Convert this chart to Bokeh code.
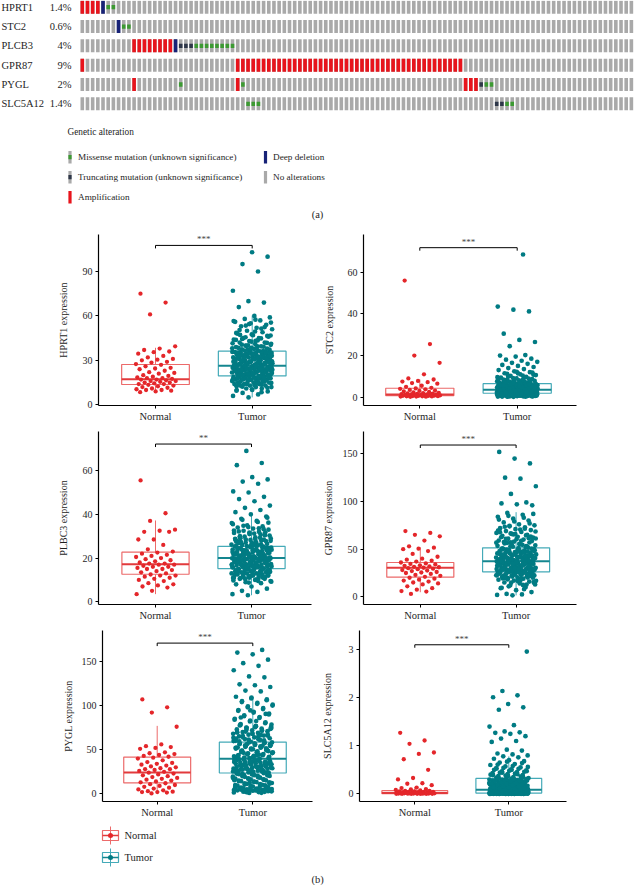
import numpy as np
from bokeh.plotting import figure
from bokeh.models import Range1d, FixedTicker
from bokeh.layouts import column, row
from bokeh.embed import file_html
from bokeh.resources import INLINE
from bokeh.core.properties import value

FONT = "Liberation Serif"
TXT = "#1e1e1e"

# ======================= (a) oncoprint data =======================
genes = ["HPRT1", "STC2", "PLCB3", "GPR87", "PYGL", "SLC5A12"]
gene_pct = ["1.4%", "0.6%", "4%", "9%", "2%", "1.4%"]
n_visible_samples = 107

hprt1_amp = [0, 1, 2, 3]
hprt1_deep = [4]
hprt1_missense = [5, 6]
stc2_deep = [7]
stc2_missense = [8, 9]
plcb3_amp = [10, 11, 12, 13, 14, 15, 16, 17]
plcb3_deep = [18]
plcb3_trunc = [19, 20, 21]
plcb3_missense = [22, 23, 24, 25, 26, 27, 28, 29]
gpr87_amp = [0, 30, 31, 32, 33, 34, 35, 36, 37, 38, 39, 40, 41, 42, 43, 44, 45, 46,
             47, 48, 49, 50, 51, 52, 53, 54, 55, 56, 57, 58, 59, 60, 61, 62, 63, 64,
             65, 66, 67, 68, 69, 70, 71, 72, 73]
pygl_amp = [10, 30, 74, 75, 76]
pygl_trunc = [77]
pygl_missense = [19, 31, 78, 79]
slc5a12_trunc = [80, 81]
slc5a12_missense = [32, 33, 34, 82, 83]

legend_left = ["Missense mutation (unknown significance)",
               "Truncating mutation (unknown significance)",
               "Amplification"]
legend_right = ["Deep deletion", "No alterations"]

# ======================= (b) expression data =======================
categories = ["Normal", "Tumor"]

hprt1_normal = [75, 69, 61, 39.5, 38, 37, 36, 35.5, 34.5, 33, 32, 31, 30.5, 30, 29, 28.5,
                27.5, 27, 26, 25, 24.5, 24, 23, 22, 21.5, 21, 20, 19.5, 19, 18.5, 18, 18,
                17.5, 17, 17, 16.5, 16, 16, 15.5, 15, 15, 14.5, 14, 14, 13.5, 13, 12.5, 12,
                11.5, 11, 10.5, 10, 10, 9.5, 9, 8.5]
hprt1_tumor = [5, 6, 7, 8, 9, 10, 10, 11, 11, 12, 12, 13, 13, 13, 14, 14, 14, 15, 15, 15,
               16, 16, 16, 16, 17, 17, 17, 17, 18, 18, 18, 18, 19, 19, 19, 19, 19.5,
               20, 20, 20.5, 21, 21, 21, 21.5, 22, 22, 22, 22.5, 23, 23, 23, 23.5, 24, 24,
               24, 24.5, 25, 25, 25, 25.5, 26, 26, 26, 20.3, 20.8, 21.7, 22.3, 23.2, 23.8,
               24.3, 24.8, 25.3, 25.8, 26.2,
               27, 27, 27.5, 28, 28, 28.5, 29, 29, 29.5, 30, 30, 30.5, 31, 31, 31.5, 32, 32,
               32.5, 33, 33, 33.5, 34, 34, 34.5, 35, 35, 35.5, 36, 36, 27.2, 28.3, 29.2,
               30.3, 31.3, 32.7, 33.7, 34.7, 35.7,
               37, 37.5, 38, 38.5, 39, 39.5, 40, 40.5, 41, 42, 42, 43, 44, 45, 45, 46, 47,
               48, 49, 50, 51, 52, 53, 54, 55, 56, 57, 58, 59, 60, 66, 69, 70, 77, 90, 95,
               100, 103,
               12.5, 13.5, 14.2, 14.8, 15.3, 15.8, 16.3, 16.8, 17.3, 17.8, 18.3, 18.8, 19.3,
               19.8, 20.6, 21.2, 21.8, 22.6, 23.4, 24.1, 24.6, 25.1, 25.6, 26.1, 26.6, 27.1,
               27.6, 28.1, 28.6, 29.1, 29.6, 30.1, 30.6, 31.1, 31.6, 32.1, 32.6, 33.1, 33.6,
               34.1, 34.6, 35.1, 35.6, 36.1, 36.6, 37.2, 37.8, 38.4, 39.2, 40.2, 41.5, 43.5,
               44.5, 46.5, 47.5, 48.5, 51.5, 53.5, 55.5, 57.5, 20.1, 22.1, 24.1, 26.4, 28.4,
               30.4, 32.4, 34.4, 18.1, 16.1, 14.1, 23.6, 27.8, 29.8, 31.8, 21.3, 25.2, 19.2,
               33.8, 35.3,
               13.2, 14.6, 15.6, 16.6, 17.6, 18.6, 19.6, 20.4, 21.4, 22.4, 23.3, 24.2, 25.4,
               26.3, 27.3, 28.2, 29.3, 30.2, 31.2, 32.3, 33.3, 34.3, 35.2, 36.3, 37.4, 38.2,
               39.4, 40.6, 41.8, 42.6, 43.8, 44.8, 45.6, 46.8, 49.5, 50.5, 52.5, 54.5, 56.5,
               15.1, 17.1, 19.1, 21.1, 23.1, 25.1, 27.4, 29.4, 31.4, 33.4, 35.4, 37.6, 22.7,
               24.4, 26.7, 28.7, 30.7, 32.9, 18.4, 20.9, 16.9, 14.4, 12.2, 11.5, 10.5, 9.5,
               8.5, 39.8, 41.2, 43.2, 47.2]
hprt1_stats = [(8.5, 13.7, 17.3, 27.2, 38.5), (5, 19.5, 26.3, 36.2, 60.3)]

stc2_normal = [56, 25.5, 20, 16.5, 11, 9, 8.5, 7.8, 7.5, 7.2, 6.8, 6.5, 5.5, 5, 4.5, 4.2, 4,
               3.8, 3.5, 3.2, 3, 2.8, 2.5, 2.3, 2.1, 2, 1.8, 1.7, 1.6, 1.5, 1.4, 1.3, 1.2,
               1.1, 1.05, 1, 0.95, 0.9, 0.85, 0.8, 0.75, 0.7, 0.65, 0.6, 0.55, 0.5, 0.45,
               0.4, 0.35, 0.3, 0.3, 0.25, 0.2]
stc2_tumor = [0.2, 0.3, 0.4, 0.5, 0.5, 0.6, 0.6, 0.7, 0.7, 0.8, 0.8, 0.9, 0.9, 1.0, 1.0, 1.1,
              1.1, 1.2, 1.2, 1.3, 1.3, 1.4, 1.4, 1.5, 1.5, 1.5, 1.6, 1.6, 1.7, 1.7, 1.8, 1.8,
              1.8, 1.9, 1.9, 1.9, 2.0,
              2.0, 2.1, 2.1, 2.2, 2.2, 2.3, 2.3, 2.4, 2.4, 2.5, 2.5, 2.6, 2.6, 2.7, 2.7, 2.8,
              2.8, 2.9, 2.9, 3.0, 3.0, 3.1, 3.1, 3.2, 3.2, 3.3, 3.3, 3.4, 3.4, 3.5, 2.15,
              2.45, 2.75, 3.05, 3.35,
              3.6, 3.7, 3.8, 3.9, 4.0, 4.1, 4.2, 4.3, 4.4, 4.5, 4.6, 4.7, 4.8, 4.9, 5.0, 5.1,
              5.2, 5.3, 5.4, 5.5, 5.6, 5.7, 5.8, 5.9, 6.0, 6.1, 3.75, 4.25, 4.75, 5.25, 5.75,
              6.2, 4.0, 4.5, 5.0,
              6.5, 6.8, 7.0, 7.3, 7.6, 8.0, 8.3, 8.7, 9.0, 9.4, 9.8, 10.2, 10.6, 11.0, 11.5,
              12.0, 12.4, 13, 13.5, 14, 14.5, 15, 15.5, 16, 16.5, 17, 17.5, 18, 18.5, 19.5,
              20, 20.2, 24.5, 26.5, 27.5, 30.5, 41.2, 42, 43.5, 68.5,
              0.35, 0.45, 0.55, 0.65, 0.75, 0.85, 0.95, 1.05, 1.15, 1.25, 1.35, 1.45, 1.55,
              1.65, 1.75, 1.85, 1.95, 2.05, 2.25, 2.35, 2.55, 2.65, 2.85, 2.95, 3.15, 3.25,
              3.45, 3.55, 3.65, 3.85, 3.95, 4.15, 4.35, 4.55, 4.65, 4.85, 4.95, 5.15, 5.35,
              5.45, 5.65, 5.85, 5.95, 6.3, 6.6, 6.9, 7.2, 7.5, 7.8, 8.1, 8.5, 8.9, 9.2, 9.6,
              10.4, 11.2, 11.8, 12.2, 1.0, 1.5, 2.0, 2.5, 3.0, 3.5, 4.0, 0.8, 1.2, 1.7, 2.2,
              2.7, 3.2, 3.7, 4.4, 5.1, 5.8, 6.4, 7.1, 0.5, 0.9, 1.3,
              0.25, 0.42, 0.58, 0.72, 0.88, 1.02, 1.18, 1.32, 1.48, 1.62, 1.78, 1.92, 2.08,
              2.22, 2.38, 2.52, 2.68, 2.82, 2.98, 3.12, 3.28, 3.42, 3.58, 3.72, 3.88, 4.02,
              4.22, 4.42, 4.62, 4.82, 5.02, 5.22, 5.42, 5.62, 5.82, 6.05, 6.35, 6.75, 7.05,
              7.45, 7.95, 8.45, 9.05, 9.85, 10.8, 11.6, 0.32, 0.62, 0.98, 1.38, 1.68, 2.12,
              2.48, 2.88, 3.22, 3.62, 4.12, 4.58, 5.08, 5.52, 6.15, 6.85, 7.65, 8.25, 0.28,
              0.68, 1.08, 1.58, 2.32, 2.62]
stc2_stats = [(0.2, 0.8, 1.3, 4.3, 8.5), (0.2, 1.9, 3.6, 6.5, 12.4)]

plbc3_normal = [55.5, 40.5, 37, 33, 32.5, 32, 32, 28.5, 28.5, 26, 24, 23, 22.5, 22, 21.5, 21,
                20.5, 20, 19.5, 19, 18.5, 18, 17.5, 17.5, 17, 17, 16.5, 16, 16, 15.5, 15,
                15, 14.5, 14, 13.5, 13, 12.5, 12, 12, 11.5, 11, 10.5, 10, 9.5, 8.5, 8, 7.5,
                7, 6.5, 5, 3.5]
plbc3_tumor = [3, 3.5, 4.5, 5, 6, 7, 8, 8.5, 9, 9.5, 10, 10.5, 10.5, 11, 11, 11.5, 11.5, 12,
               12, 12.5, 12.5, 13, 13, 13, 13.5, 13.5, 14, 14, 14, 14.5, 14.5, 15, 15,
               15.3, 15.5, 15.7, 16, 16, 16.3, 16.5, 16.7, 17, 17, 17.3, 17.5, 17.7, 18, 18,
               18.3, 18.5, 18.7, 19, 19, 19.3, 19.5, 19.7, 19.9, 15.8, 16.8, 17.8, 18.8, 19.6,
               16.2, 17.2,
               20.2, 20.4, 20.7, 21, 21.2, 21.5, 21.8, 22, 22.3, 22.6, 22.9, 23.2, 23.5, 23.8,
               24.1, 24.4, 24.7, 25, 25.3, 20.5, 21.4, 22.4, 23.4, 24.4, 25.2, 21.9, 23.9,
               25.7, 26, 26.5, 27, 27.5, 28, 28.5, 29, 29.5, 30, 30.5, 31, 31.5, 32, 32.5, 33,
               33.5, 34, 34.5, 35, 36, 37, 38, 39, 40, 41, 42, 43, 44, 46, 47, 48, 50, 50.5,
               54, 55, 56, 57, 62.5, 63.5, 69,
               9.2, 10.2, 10.8, 11.3, 11.8, 12.3, 12.8, 13.3, 13.8, 14.3, 14.8, 15.1, 15.4,
               15.9, 16.4, 16.9, 17.4, 17.9, 18.4, 18.9, 19.4, 19.8, 20.1, 20.6, 21.1, 21.6,
               22.1, 22.5, 22.8, 23.1, 23.6, 24.2, 24.8, 25.5, 26.2, 26.8, 27.3, 27.8, 28.3,
               28.8, 29.3, 29.8, 30.3, 31.2, 32.2, 33.2, 34.2, 35.5, 36.5, 37.5, 38.5, 12.1,
               13.1, 14.1, 15.6, 16.6, 17.6, 18.6, 19.1, 20.9, 21.9, 22.7, 23.3, 24.6, 26.4,
               27.6, 11.1, 14.9, 17.1, 19.7, 21.3, 23.7, 25.8, 28.1, 30.8, 10.4, 13.7, 16.1,
               18.1, 20.3,
               8.8, 9.8, 10.6, 11.6, 12.6, 13.6, 14.6, 15.2, 15.6, 16.2, 16.7, 17.1, 17.6,
               18.2, 18.7, 19.2, 19.6, 20.2, 20.8, 21.3, 21.8, 22.3, 22.8, 23.3, 23.8, 24.3,
               24.9, 25.6, 26.3, 27.1, 27.9, 28.7, 29.6, 30.6, 31.6, 32.6, 33.6, 34.8, 36.2,
               12.4, 13.9, 14.9, 15.9, 16.9, 17.9, 18.9, 19.9, 20.7, 21.7, 22.2, 23.5, 24.5,
               25.9, 26.9, 28.4, 11.4, 10.9, 9.6, 13.2, 14.4, 16.4, 18.2, 20.4, 22.6, 24.8,
               27.5, 29.1, 31.8, 17.3, 19.3]
plbc3_stats = [(3.5, 12.6, 17.2, 22.7, 37.2), (3, 15.2, 20, 25.4, 40.5)]

gpr87_normal = [69, 67, 65, 63.5, 59, 53, 51.5, 50.5, 50, 48, 45, 42, 40, 39, 38, 37, 36, 35,
                34.5, 34, 33, 32.5, 32, 31.5, 31, 30.5, 30, 29.5, 29, 28, 27.5, 27, 26, 25.5,
                25, 24, 23, 22, 21, 20, 19, 18, 17, 16, 15, 14, 13, 11, 9, 7.5, 6, 5.5, 3]
gpr87_tumor = [1.5, 2, 2.5, 3, 5, 7, 9, 10, 12, 13, 14, 15, 16, 17, 18, 19, 19.5, 20, 20.5,
               21, 21.5, 22, 22.5, 23, 23.5, 24, 24.5, 25, 25.5, 26, 14.5, 18.5, 22.2, 24.2,
               25.8,
               26.5, 27, 27.5, 28, 28.5, 29, 29.5, 30, 30.5, 31, 31.5, 32, 32.5, 33, 33.5, 34,
               34.5, 35, 35.5, 36, 36.5, 37, 27.2, 28.8, 30.2, 31.8, 33.2, 34.8, 36.2, 29.3,
               32.3, 35.2,
               38, 38.5, 39, 40, 40.5, 41, 42, 42.5, 43, 44, 44.5, 45, 46, 46.5, 47, 48, 48.5,
               49, 50, 51, 39.5, 41.5, 43.5, 45.5, 47.5, 49.5, 50.5, 37.8, 44.2,
               52, 53, 54, 55, 56, 57, 58, 59, 60, 61, 62, 63, 64, 65, 66, 67, 68, 69, 70, 71,
               72, 73, 74, 75, 76, 78, 80, 82, 84, 86, 88, 96, 97, 98, 99, 108, 116, 124, 125,
               140, 145, 152,
               8, 11, 15.5, 17.5, 19.2, 20.2, 21.2, 22.8, 23.8, 24.8, 25.2, 26.2, 26.8, 27.8,
               28.2, 29.8, 30.8, 31.2, 32.8, 33.8, 34.2, 35.8, 36.8, 37.2, 38.2, 38.8, 39.2,
               40.2, 41.2, 41.8, 42.2, 43.2, 44.8, 45.2, 46.2, 47.2, 48.2, 49.2, 50.2, 51.5,
               52.5, 53.5, 54.5, 56.5, 58.5, 60.5, 62.5, 64.5, 66.5, 68.5, 70.5, 73.5, 77, 79,
               81, 83, 85, 87, 16.5, 20.8, 23.3, 27.4, 29.1, 31.4, 33.6, 35.4, 37.6, 39.8,
               42.8, 45.8, 48.8, 55.5, 57.5, 61.5, 65.5, 69.5, 12.5, 18.2, 24.6, 28.6,
               9.5, 12.8, 14.8, 16.8, 18.8, 20.4, 21.8, 23.2, 24.4, 25.6, 26.6, 27.6, 28.6,
               29.6, 30.6, 31.6, 32.6, 33.6, 34.6, 35.6, 36.6, 37.6, 38.6, 39.6, 40.6, 41.6,
               42.6, 43.6, 44.6, 45.6, 46.6, 47.6, 48.6, 49.6, 50.8, 52.8, 54.8, 56.8, 58.8,
               60.8, 63.2, 65.8, 67.8, 71.5, 74.5, 22.4, 25.4, 28.4, 31.6, 34.4, 36.4, 38.4,
               40.8, 43.4, 46.4, 49.4, 53.2, 57.2, 61.2, 17.2, 19.8, 27.1, 30.1, 33.1, 35.1,
               37.1, 39.1, 41.4, 44.4, 47.4]
gpr87_stats = [(4.8, 20.6, 30.4, 36, 52), (1.5, 26.2, 37.4, 51.4, 88.8)]

pygl_normal = [107, 98, 92, 76, 56, 54, 53, 52, 51, 47, 46, 45, 44, 43, 42, 41, 40, 38, 36,
               35, 34, 33, 32, 31, 30, 29, 28, 28, 27, 26, 25, 24, 23, 22, 21, 20, 19, 18, 17,
               16, 15, 14, 13, 12, 11, 10, 9, 8, 7, 6, 5, 4, 3, 2.5, 2, 2, 1.5, 0.5]
pygl_tumor = [1, 1.5, 2, 2.5, 3, 3.5, 4, 4.5, 5, 5.5, 6, 7, 8, 9, 10, 11, 12, 13, 14, 15, 16,
              17, 18, 19, 20, 21, 22, 23, 1.2, 2.2, 3.2, 4.2, 6.5, 9.5, 12.5, 15.5, 18.5, 21.5,
              24, 25, 26, 27, 28, 29, 30, 31, 32, 33, 34, 35, 36, 37, 38, 39, 24.5, 26.5, 28.5,
              30.5, 32.5, 34.5, 36.5, 38.5, 25.5, 29.5, 33.5, 37.5, 27.5, 31.5, 35.5, 39.2,
              40, 41, 42, 43, 44, 45, 46, 47, 48, 49, 50, 51, 52, 53, 54, 55, 56, 57, 58, 40.5,
              42.5, 44.5, 46.5, 48.5, 50.5, 52.5, 54.5, 56.5, 58.2, 43.5, 47.5, 51.5,
              59, 60, 61, 62, 63, 64, 65, 66, 67, 68, 69, 70, 71, 72, 73, 74, 75, 76, 77, 78,
              80, 82, 84, 86, 88, 90, 92, 94, 96, 98, 100, 102, 104, 106, 108, 110, 116, 117,
              121, 123, 124, 132, 133, 140, 145, 148, 152, 158, 160, 163,
              1.8, 2.8, 3.8, 4.8, 5.8, 6.8, 7.5, 8.5, 10.5, 11.5, 13.5, 14.5, 16.5, 17.5,
              19.5, 20.5, 22.5, 23.8, 24.8, 26.2, 27.2, 28.8, 29.8, 31.2, 32.2, 33.8, 34.8,
              36.2, 37.2, 38.8, 39.8, 41.2, 42.2, 43.8, 44.8, 46.2, 47.2, 48.8, 49.8, 51.2,
              52.2, 53.8, 54.8, 56.2, 57.2, 59.5, 60.5, 61.5, 63.5, 64.5, 65.5, 67.5, 68.5,
              69.5, 71.5, 72.5, 74.5, 76.5, 79, 81, 83, 85, 87, 89, 91, 93, 95, 97, 99, 101,
              103, 105, 107, 109, 62.5, 66.5, 70.5, 73.5, 75.5, 77.5,
              2.3, 3.3, 4.3, 5.3, 6.3, 7.3, 8.3, 9.3, 10.3, 11.3, 12.3, 13.3, 14.3, 15.3,
              16.3, 17.3, 18.3, 19.3, 20.3, 21.3, 22.3, 23.3, 24.3, 25.3, 26.3, 27.3, 28.3,
              29.3, 30.3, 31.3, 32.3, 33.3, 34.3, 35.3, 36.3, 37.3, 38.3, 39.3, 40.3, 41.3,
              42.3, 43.3, 44.3, 45.3, 46.3, 47.3, 48.3, 49.3, 50.3, 51.3, 52.3, 53.3, 54.3,
              55.3, 56.3, 57.3, 58.3, 59.8, 61.8, 63.8, 65.8, 67.8, 69.8, 71.8, 74.8, 78.5,
              82.5, 86.5, 90.5, 94.5]
pygl_stats = [(0.5, 12.4, 24.3, 41.7, 77), (1, 23.6, 39.8, 58.6, 108)]

slc5a12_normal = [1.27, 1.11, 1.04, 0.86, 0.83, 0.72, 0.5, 0.33, 0.3, 0.22, 0.21, 0.18, 0.13,
                  0.12, 0.1, 0.09, 0.08, 0.07, 0.06, 0.06, 0.05, 0.05, 0.04, 0.04, 0.04, 0.03,
                  0.03, 0.03, 0.03, 0.02, 0.02, 0.02, 0.02, 0.02, 0.01, 0.01, 0.01, 0.01, 0.01,
                  0.01, 0.005, 0.005, 0.005, 0.003, 0.003, 0.002, 0.002, 0.001, 0.001, 0, 0, 0]
slc5a12_tumor = [0, 0, 0, 0, 0, 0.001, 0.001, 0.002, 0.002, 0.003, 0.003, 0.004, 0.005, 0.006,
                 0.007, 0.008, 0.009, 0.01, 0.01, 0.012, 0.014, 0.016, 0.018, 0.02, 0.02,
                 0.022, 0.025, 0.028, 0.03, 0.032, 0.035, 0.038, 0.04, 0.045, 0.05, 0.055,
                 0.06, 0.065, 0.07,
                 0.075, 0.08, 0.085, 0.09, 0.095, 0.1, 0.105, 0.11, 0.115, 0.12, 0.13, 0.14,
                 0.15, 0.16, 0.17, 0.18, 0.19, 0.2, 0.21, 0.22, 0.23, 0.24, 0.25, 0.26, 0.27,
                 0.28, 0.29, 0.3, 0.31, 0.32, 0.1, 0.12, 0.14, 0.16, 0.18, 0.2, 0.22, 0.25,
                 0.33, 0.35, 0.37, 0.39, 0.41, 0.43, 0.45, 0.47, 0.49, 0.51, 0.53, 0.55, 0.57,
                 0.6, 0.62, 0.65, 0.68, 0.7, 0.73, 0.76, 0.78, 0.8, 0.82, 0.84, 0.9, 0.92, 1.08,
                 1.1, 1.15, 1.2, 1.25, 1.27, 1.28, 1.3, 1.4, 1.43, 1.75, 1.8, 1.87, 2.01, 2.05,
                 2.14, 2.96,
                 0, 0, 0, 0.001, 0.002, 0.003, 0.005, 0.007, 0.009, 0.011, 0.013, 0.015, 0.017,
                 0.019, 0.021, 0.024, 0.027, 0.03, 0.034, 0.038, 0.042, 0.047, 0.052, 0.058,
                 0.063, 0.068, 0.073, 0.078, 0.083, 0.088, 0.093, 0.098, 0.103, 0.108, 0.113,
                 0.118, 0.125, 0.135, 0.145, 0.155, 0.165, 0.175, 0.185, 0.195, 0.205, 0.215,
                 0.225, 0.235, 0.245, 0.255, 0.265, 0.275, 0.285, 0.295, 0.305, 0.315, 0.34,
                 0.36, 0.38, 0.4, 0.42, 0.44, 0.46, 0.48, 0.5, 0.52, 0.54, 0.56, 0.58, 0.61,
                 0.64, 0.67, 0.005, 0.015, 0.025, 0.035, 0.045, 0.055, 0.065, 0.075,
                 0, 0, 0, 0, 0.001, 0.002, 0.004, 0.006, 0.008, 0.01, 0.012, 0.014, 0.016,
                 0.018, 0.02, 0.023, 0.026, 0.029, 0.032, 0.036, 0.04, 0.044, 0.048, 0.053,
                 0.057, 0.062, 0.067, 0.072, 0.077, 0.082, 0.087, 0.092, 0.097, 0.102, 0.107,
                 0.112, 0.117, 0.122, 0.128, 0.138, 0.148, 0.158, 0.168, 0.178, 0.188, 0.198,
                 0.208, 0.218, 0.228, 0.238, 0.248, 0.258, 0.268, 0.278, 0.288, 0.298, 0.31,
                 0.33, 0.35, 0.37, 0.39, 0.41, 0.44, 0.47, 0.5, 0.53, 0.003, 0.007, 0.011,
                 0.031]
slc5a12_stats = [(0, 0.003, 0.02, 0.065, 0.14), (0, 0.015, 0.085, 0.32, 0.78)]

hprt1_ticks = [0, 30, 60, 90]
stc2_ticks = [0, 20, 40, 60]
plbc3_ticks = [0, 20, 40, 60]
gpr87_ticks = [0, 50, 100, 150]
pygl_ticks = [0, 50, 100, 150]
slc5a12_ticks = [0, 1, 2, 3]

significance = ["***", "***", "**", "***", "***", "***"]

# ======================= styling =======================
GRAY = "#a9a9a9"
AMP = "#e8141c"
DEEP = "#172277"
MIS = "#3c9a32"
TRUNC = "#2d3648"

N_PT, N_BOX, N_MED = "#e4262a", "#ec6a6a", "#e23a3c"
T_PT, T_BOX, T_MED = "#007b83", "#44aab8", "#14868f"

W = 634
ONC_H = 232
COL0 = 81.8      # x of column 0 centre
PITCH = 5.18     # px per sample column
ROW0 = 6.7       # y of first gene row
RPITCH = 19.33   # px per gene row


def cx(px):
    return (px - COL0) / PITCH


def cy(px):
    return (px - ROW0) / RPITCH


def base_fig(w, h, xr, yr, **kw):
    p = figure(width=w, height=h, x_range=xr, y_range=yr, output_backend="svg",
               toolbar_location=None, title=None, **kw)
    p.outline_line_color = None
    p.background_fill_color = "white"
    p.border_fill_color = "white"
    return p


# ---------------- (a) oncoprint figure ----------------
onc = base_fig(W, ONC_H, Range1d(cx(0), cx(W)), Range1d(cy(ONC_H), cy(0)),
               x_axis_type=None, y_axis_type=None, min_border=0)
onc.xgrid.visible = False
onc.ygrid.visible = False

bw = 3.6 / PITCH
bh = 13.0 / RPITCH
mh = 4.3 / RPITCH

gx, gy = [], []
for gi in range(len(genes)):
    for c in range(n_visible_samples):
        gx.append(c)
        gy.append(gi)
onc.rect(x=gx, y=gy, width=bw, height=bh, fill_color=GRAY, line_color=None)


def cells(pairs):
    xs, ys = [], []
    for gi, cols in pairs:
        for c in cols:
            xs.append(c)
            ys.append(gi)
    return xs, ys


ax_, ay_ = cells([(0, hprt1_amp), (2, plcb3_amp), (3, gpr87_amp), (4, pygl_amp)])
onc.rect(x=ax_, y=ay_, width=bw, height=bh, fill_color=AMP, line_color=None)
dx_, dy_ = cells([(0, hprt1_deep), (1, stc2_deep), (2, plcb3_deep)])
onc.rect(x=dx_, y=dy_, width=bw, height=bh, fill_color=DEEP, line_color=None)
mx_, my_ = cells([(0, hprt1_missense), (1, stc2_missense), (2, plcb3_missense),
                  (4, pygl_missense), (5, slc5a12_missense)])
onc.rect(x=mx_, y=my_, width=bw, height=mh, fill_color=MIS, line_color=None)
tx_, ty_ = cells([(2, plcb3_trunc), (4, pygl_trunc), (5, slc5a12_trunc)])
onc.rect(x=tx_, y=ty_, width=bw, height=mh, fill_color=TRUNC, line_color=None)

onc.text(x=[cx(1)] * len(genes), y=list(range(len(genes))), text=genes,
         text_align="left", text_baseline="middle", text_font=value(FONT),
         text_font_size=value("10.5px"), text_color=TXT)
onc.text(x=[cx(71)] * len(genes), y=list(range(len(genes))), text=gene_pct,
         text_align="right", text_baseline="middle", text_font=value(FONT),
         text_font_size=value("10.5px"), text_color=TXT)

# legend of (a)
onc.text(x=[cx(67)], y=[cy(131.7)], text=["Genetic alteration"], text_align="left",
         text_baseline="middle", text_font=value(FONT), text_font_size=value("9.3px"),
         text_color=TXT)
ly = [cy(156.7), cy(176.7), cy(196.7)]
lgw = 3.2 / PITCH
lgh = 12.5 / RPITCH
onc.rect(x=[cx(69.5)] * 2, y=ly[:2], width=lgw, height=lgh, fill_color=GRAY, line_color=None)
onc.rect(x=[cx(69.5)], y=[ly[0]], width=lgw, height=mh, fill_color=MIS, line_color=None)
onc.rect(x=[cx(69.5)], y=[ly[1]], width=lgw, height=mh, fill_color=TRUNC, line_color=None)
onc.rect(x=[cx(69.5)], y=[ly[2]], width=lgw, height=lgh, fill_color=AMP, line_color=None)
onc.rect(x=[cx(265)], y=[ly[0]], width=lgw, height=lgh, fill_color=DEEP, line_color=None)
onc.rect(x=[cx(265)], y=[ly[1]], width=lgw, height=lgh, fill_color=GRAY, line_color=None)
onc.text(x=[cx(77.5)] * 3, y=ly, text=legend_left, text_align="left", text_baseline="middle",
         text_font=value(FONT), text_font_size=value("9.2px"), text_color=TXT)
onc.text(x=[cx(272.5)] * 2, y=ly[:2], text=legend_right, text_align="left",
         text_baseline="middle", text_font=value(FONT), text_font_size=value("9.2px"),
         text_color=TXT)
onc.text(x=[cx(317)], y=[cy(214)], text=["(a)"], text_align="center", text_baseline="middle",
         text_font=value(FONT), text_font_size=value("10.5px"), text_color=TXT)


# ---------------- (b) box plots ----------------
def jit(n, phase):
    return np.array([((i * 0.6180339887 + phase) % 1.0) - 0.5 for i in range(n)]) * 0.42


def make_panel(lay, normal, tumor, stats, ticks, ylabel, stars):
    (fig_left, fig_top, fig_w, fig_h, frame_left, frame_top, frame_bottom, frame_w,
     normal_px, pitch, tick0_px, ppu, lab_standoff) = lay
    mbl = int(round(frame_left - fig_left))
    mbr = int(round(fig_w - mbl - frame_w))
    mbt = int(round(frame_top - fig_top))
    mbb = int(round(fig_h - mbt - (frame_bottom - frame_top)))
    x0 = 1 - (normal_px - frame_left) / pitch
    x1 = x0 + frame_w / pitch
    y0 = (tick0_px - frame_bottom) / ppu
    y1 = (tick0_px - frame_top) / ppu
    p = base_fig(fig_w, fig_h, Range1d(x0, x1), Range1d(y0, y1), min_border_left=mbl,
                 min_border_right=mbr, min_border_top=mbt, min_border_bottom=mbb)
    p.xgrid.visible = False
    p.ygrid.visible = False

    hw = 0.35
    for xc, st, bc, mc in [(1, stats[0], N_BOX, N_MED), (2, stats[1], T_BOX, T_MED)]:
        lo, q1, med, q3, hi = st
        p.quad(left=[xc - hw], right=[xc + hw], bottom=[q1], top=[q3], fill_color=None,
               line_color=bc, line_width=1.2)
        p.segment(x0=[xc, xc], y0=[q3, q1], x1=[xc, xc], y1=[hi, lo], line_color=bc,
                  line_width=1)
        p.segment(x0=[xc - hw], y0=[med], x1=[xc + hw], y1=[med], line_color=mc,
                  line_width=2)

    p.scatter(x=1 + jit(len(normal), 0.13), y=normal, size=4.3, fill_color=N_PT,
              line_color=None)
    p.scatter(x=2 + jit(len(tumor), 0.41), y=tumor, size=4.7, fill_color=T_PT,
              line_color=None)

    yb = max(max(normal), max(tumor)) + 0.04 * (y1 - y0)
    tl = 3.0 / ppu
    p.line(x=[1, 1, 2, 2], y=[yb - tl, yb, yb, yb - tl], line_color="black", line_width=1)
    p.text(x=[1.5], y=[yb], text=[stars], text_align="center", text_baseline="bottom",
           y_offset=-1, text_font=value(FONT), text_font_size=value("9px"),
           text_color="#444444")

    p.xaxis.ticker = FixedTicker(ticks=[1, 2])
    p.xaxis.major_label_overrides = {1: categories[0], 2: categories[1]}
    p.yaxis.ticker = FixedTicker(ticks=ticks)
    for ax in (p.xaxis[0], p.yaxis[0]):
        ax.axis_line_color = "black"
        ax.axis_line_width = 1.2
        ax.major_tick_in = 0
        ax.major_tick_out = 3
        ax.major_tick_line_color = "black"
        ax.minor_tick_line_color = None
        ax.major_label_text_font = FONT
        ax.major_label_text_font_size = "10px"
        ax.major_label_text_color = TXT
    p.xaxis.major_label_standoff = 2
    p.yaxis.major_label_standoff = 3
    p.xaxis.major_label_text_font_size = "10.5px"
    p.yaxis.axis_label = ylabel
    p.yaxis.axis_label_text_font = FONT
    p.yaxis.axis_label_text_font_size = "10px"
    p.yaxis.axis_label_text_font_style = "normal"
    p.yaxis.axis_label_text_color = TXT
    p.yaxis.axis_label_standoff = lab_standoff
    return p


# layout tuples: fig_left, fig_top, fig_w, fig_h, frame_left, frame_top, frame_bottom,
#                frame_w, normal_px, pitch, tick0_px, px_per_unit, label_standoff
p1 = make_panel((0, 232, 317, 198, 98, 234, 405, 213, 155, 96.7, 404.3, 1.481, 11),
                hprt1_normal, hprt1_tumor, hprt1_stats, hprt1_ticks, "HPRT1 expression",
                significance[0])
p2 = make_panel((317, 232, 317, 198, 363, 234, 405, 213, 419.3, 97.4, 396.7, 2.083, 10),
                stc2_normal, stc2_tumor, stc2_stats, stc2_ticks, "STC2 expression",
                significance[1])
p3 = make_panel((0, 430, 317, 198, 98, 431, 604, 213, 155, 96.0, 601.3, 2.186, 11),
                plbc3_normal, plbc3_tumor, plbc3_stats, plbc3_ticks, "PLBC3 expression",
                significance[2])
p4 = make_panel((317, 430, 317, 198, 363, 431, 604, 213, 419.8, 95.8, 596.3, 0.953, 6),
                gpr87_normal, gpr87_tumor, gpr87_stats, gpr87_ticks, "GPR87 expression",
                significance[3])
p5 = make_panel((0, 628, 317, 192, 102, 630, 802, 210, 156.7, 95.6, 794.3, 0.888, 5),
                pygl_normal, pygl_tumor, pygl_stats, pygl_ticks, "PYGL expression",
                significance[4])
p6 = make_panel((317, 628, 317, 192, 359, 630, 802, 207, 414.3, 94.0, 794.3, 48.33, 13),
                slc5a12_normal, slc5a12_tumor, slc5a12_stats, slc5a12_ticks,
                "SLC5A12 expression", significance[5])

# ---------------- legend of (b) ----------------
LEG_H = 65
LEG_TOP = 820
leg = base_fig(W, LEG_H, Range1d(0, W), Range1d(LEG_H, 0), x_axis_type=None,
               y_axis_type=None, min_border=0)
leg.xgrid.visible = False
leg.ygrid.visible = False
for yc, bc, mc, pc, lab in [(835 - LEG_TOP, N_BOX, N_MED, N_PT, categories[0]),
                            (857 - LEG_TOP, T_BOX, T_MED, T_PT, categories[1])]:
    leg.quad(left=[102], right=[118], bottom=[yc + 5], top=[yc - 5], fill_color=None,
             line_color=bc, line_width=1.2)
    leg.segment(x0=[110], y0=[yc - 9], x1=[110], y1=[yc + 9], line_color=bc, line_width=1)
    leg.segment(x0=[102], y0=[yc], x1=[118], y1=[yc], line_color=mc, line_width=1.5)
    leg.scatter(x=[110], y=[yc], size=5, fill_color=pc, line_color=None)
    leg.text(x=[124], y=[yc], text=[lab], text_align="left", text_baseline="middle",
             text_font=value(FONT), text_font_size=value("10.5px"), text_color=TXT)
leg.text(x=[317], y=[879 - LEG_TOP], text=["(b)"], text_align="center",
         text_baseline="middle", text_font=value(FONT), text_font_size=value("10.5px"),
         text_color=TXT)

layout = column(onc, row(p1, p2), row(p3, p4), row(p5, p6), leg)
open("out.html", "w").write(file_html(layout, INLINE))
